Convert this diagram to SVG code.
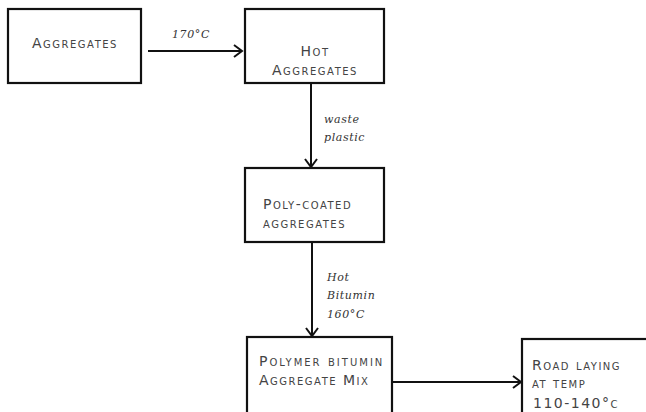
<svg xmlns="http://www.w3.org/2000/svg" width="646" height="412" viewBox="0 0 646 412">
<defs>
<marker id="arr" markerWidth="14" markerHeight="14" refX="11" refY="7" orient="auto" markerUnits="userSpaceOnUse">
<path d="M3,1 L11,7 L3,13" fill="none" stroke="#111" stroke-width="2"/>
</marker>
<style>
.box{fill:#fff;stroke:#111;stroke-width:2.2}
.t{font-family:"DejaVu Sans","Liberation Sans",sans-serif;font-size:14px;font-variant:small-caps;fill:#444;letter-spacing:1.5px}
.l{font-family:"DejaVu Serif","Liberation Serif",serif;font-style:italic;font-size:11px;fill:#333;letter-spacing:0.6px}
.c{stroke:#111;stroke-width:2;fill:none;marker-end:url(#arr)}
</style>
</defs>
<rect width="646" height="412" fill="#fff"/>
<g id="connectors">
<line class="c" x1="148" y1="51" x2="242" y2="51"/>
<line class="c" x1="311" y1="83" x2="311" y2="167"/>
<line class="c" x1="312" y1="242" x2="312" y2="336"/>
<line class="c" x1="392" y1="382" x2="521" y2="382"/>
<text class="l" x="172" y="38">170°C</text>
<text class="l" x="324" y="123">waste</text>
<text class="l" x="324" y="141">plastic</text>
<text class="l" x="327" y="281">Hot</text>
<text class="l" x="327" y="299">Bitumin</text>
<text class="l" x="327" y="318">160°C</text>
</g>
<g id="aggregates">
<rect class="box" x="8" y="9" width="133" height="74"/>
<text class="t" x="75" y="48" text-anchor="middle">Aggregates</text>
</g>
<g id="hot-aggregates">
<rect class="box" x="245" y="9" width="139" height="74"/>
<text class="t" x="315" y="56" text-anchor="middle">Hot</text>
<text class="t" x="315" y="75" text-anchor="middle">Aggregates</text>
</g>
<g id="poly-coated">
<rect class="box" x="245" y="168" width="139" height="74"/>
<text class="t" x="263" y="209">Poly-coated</text>
<text class="t" x="263" y="228">aggregates</text>
</g>
<g id="polymer-mix">
<rect class="box" x="247" y="337" width="145" height="78"/>
<text class="t" x="259" y="366" style="letter-spacing:2px">Polymer bitumin</text>
<text class="t" x="259" y="385">Aggregate Mix</text>
</g>
<g id="road-laying">
<rect class="box" x="522" y="339" width="128" height="76"/>
<text class="t" x="532" y="370">Road laying</text>
<text class="t" x="532" y="388">at temp</text>
<text class="t" x="533" y="408">110-140°c</text>
</g>
</svg>
